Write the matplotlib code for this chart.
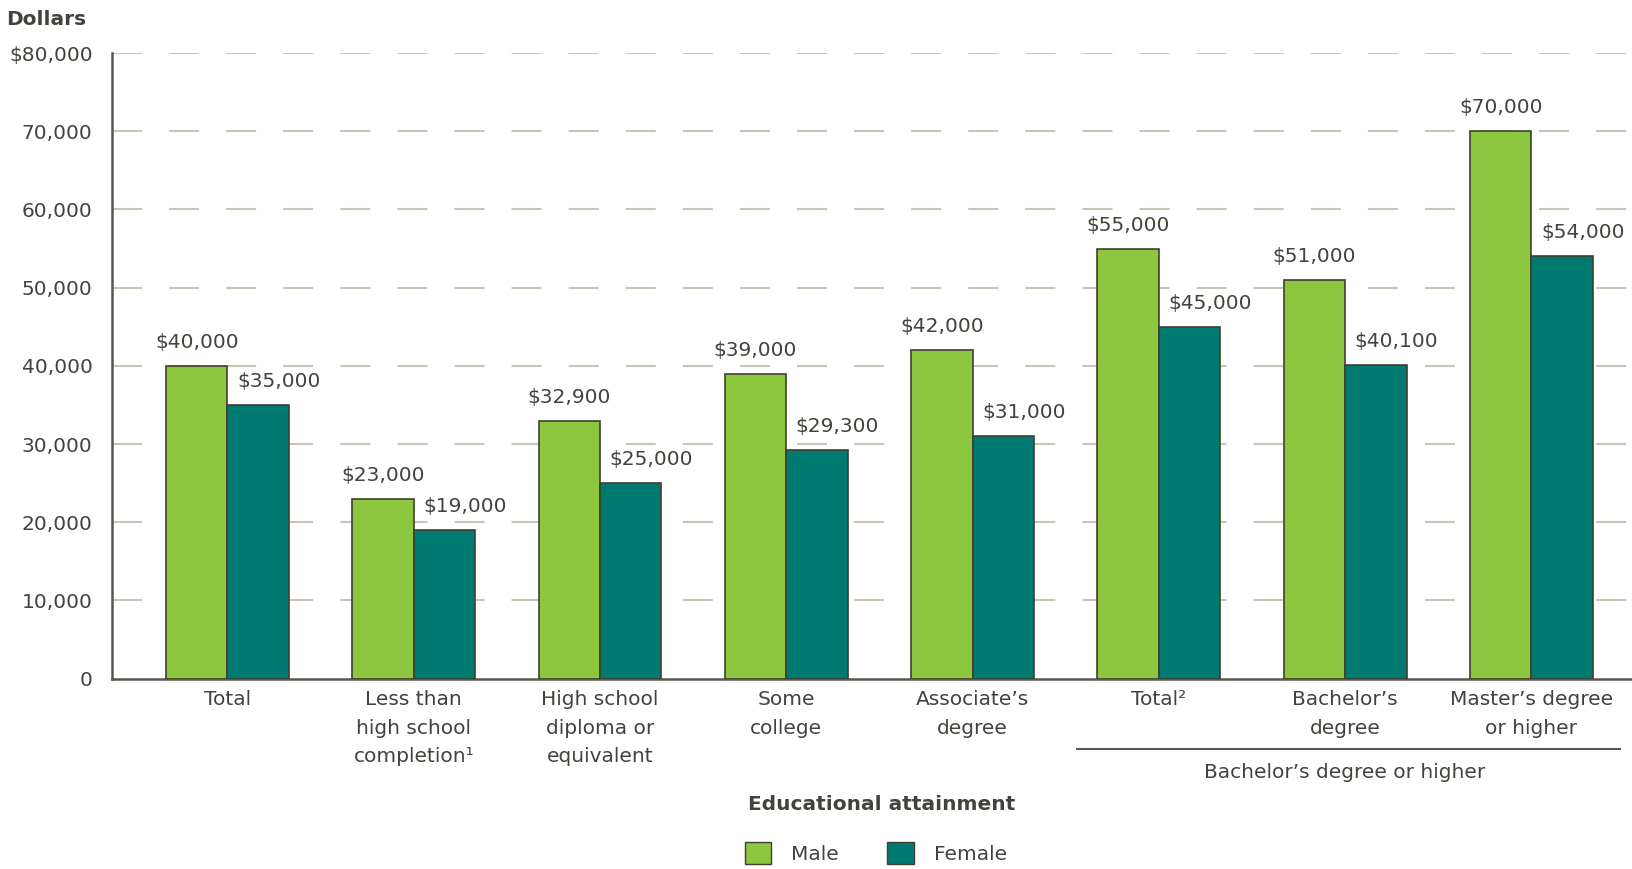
import matplotlib
matplotlib.use("Agg")
import matplotlib.pyplot as plt
from matplotlib.patches import Patch
from matplotlib.lines import Line2D

categories = ["Total", "Less than\nhigh school\ncompletion\u00b9", "High school\ndiploma or\nequivalent",
              "Some\ncollege", "Associate\u2019s\ndegree", "Total\u00b2", "Bachelor\u2019s\ndegree",
              "Master\u2019s degree\nor higher"]
male = [40000, 23000, 32900, 39000, 42000, 55000, 51000, 70000]
female = [35000, 19000, 25000, 29300, 31000, 45000, 40100, 54000]
male_labels = ["$40,000", "$23,000", "$32,900", "$39,000", "$42,000", "$55,000", "$51,000", "$70,000"]
female_labels = ["$35,000", "$19,000", "$25,000", "$29,300", "$31,000", "$45,000", "$40,100", "$54,000"]
yticks = [0, 10000, 20000, 30000, 40000, 50000, 60000, 70000, 80000]
ytick_labels = ["0", "10,000", "20,000", "30,000", "40,000", "50,000", "60,000", "70,000", "$80,000"]

plt.rcParams['font.family'] = ['DejaVu Sans']
TXT = "#45423d"
MALE_C = "#8dc63f"
FEM_C = "#007a70"
EDGE = "#3f3f30"
FS = 14.5

fig = plt.figure(figsize=(16.32, 8.69), dpi=100)
ax = fig.add_axes([0.0686, 0.219, 0.9314, 0.72])

x = list(range(len(categories)))
w = 0.33
xm = [i - w / 2 for i in x]
xf = [i + w / 2 for i in x]
ax.bar(xm, male, width=w, color=MALE_C, edgecolor=EDGE, linewidth=1.2, zorder=3)
ax.bar(xf, female, width=w, color=FEM_C, edgecolor=EDGE, linewidth=1.2, zorder=3)

for xi, v, t in zip(xm, male, male_labels):
    ax.annotate(t, (xi, v), xytext=(0, 10), textcoords="offset points", ha="center", va="bottom",
                fontsize=FS, color=TXT)
for xi, v, t in zip(xf, female, female_labels):
    ax.annotate(t, (xi + 0.11, v), xytext=(0, 10), textcoords="offset points", ha="center", va="bottom",
                fontsize=FS, color=TXT)

ax.set_xlim(-0.62, 7.54)
ax.set_ylim(0, 80000)
ax.set_yticks(yticks)
ax.set_yticklabels(ytick_labels, fontsize=FS, color=TXT)
ax.set_xticks(x)
ax.set_xticklabels(categories, fontsize=FS, color=TXT, linespacing=1.65)
ax.tick_params(axis="both", length=0)
ax.tick_params(axis="y", pad=14)
ax.tick_params(axis="x", pad=8)

for t in yticks[1:]:
    ax.axhline(t, color="#c9c4b8", linewidth=1.5, linestyle=(0, (14.4, 13)), zorder=1)

for s in ["top", "right"]:
    ax.spines[s].set_visible(False)
ax.spines["left"].set_color("#5a5650")
ax.spines["left"].set_linewidth(1.8)
ax.spines["bottom"].set_color("#5a5650")
ax.spines["bottom"].set_linewidth(1.8)

fig.text(0.004, 0.978, "Dollars", fontsize=FS, fontweight="bold", color=TXT, ha="left", va="center")

# group line
line = Line2D([1077 / 1632, 1620 / 1632], [1 - 749 / 869, 1 - 749 / 869], transform=fig.transFigure,
              color="#5a5650", linewidth=1.5)
fig.add_artist(line)
fig.text(1345 / 1632, 1 - 772 / 869, "Bachelor\u2019s degree or higher", fontsize=FS, color=TXT,
         ha="center", va="center")

fig.text(882 / 1632, 1 - 805 / 869, "Educational attainment", fontsize=FS, fontweight="bold",
         color=TXT, ha="center", va="center")

handles = [Patch(facecolor=MALE_C, edgecolor=EDGE, label="Male"),
           Patch(facecolor=FEM_C, edgecolor=EDGE, label="Female")]
leg = fig.legend(handles=handles, loc="center", bbox_to_anchor=(876 / 1632, 1 - 853 / 869), ncol=2,
                 frameon=False, fontsize=FS, handlelength=1.3, handleheight=1.3, columnspacing=2.4,
                 handletextpad=1.0)
for t in leg.get_texts():
    t.set_color(TXT)

fig.savefig("out.png", dpi=100)
